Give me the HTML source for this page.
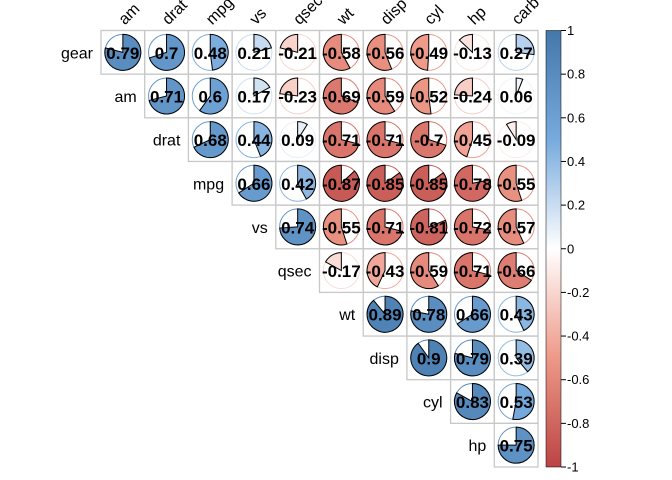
<!DOCTYPE html>
<html><head><meta charset="utf-8"><style>
body{margin:0;background:#fff}
svg{display:block;font-family:"Liberation Sans",Arial,sans-serif}
</style></head><body>
<svg id="c" width="672" height="480">
<defs><linearGradient id="g" x1="0" y1="1" x2="0" y2="0">
<stop offset="0" stop-color="#BB4444"/><stop offset="0.25" stop-color="#EE9988"/><stop offset="0.5" stop-color="#FFFFFF"/><stop offset="0.75" stop-color="#77AADD"/><stop offset="1" stop-color="#4477AA"/></linearGradient></defs>
</svg>
<script>
const rowLabels=["gear","am","drat","mpg","vs","qsec","wt","disp","cyl","hp"];
const colLabels=["am","drat","mpg","vs","qsec","wt","disp","cyl","hp","carb"];
const corrValues=[
[.79,.7,.48,.21,-.21,-.58,-.56,-.49,-.13,.27],
[.71,.6,.17,-.23,-.69,-.59,-.52,-.24,.06],
[.68,.44,.09,-.71,-.71,-.7,-.45,-.09],
[.66,.42,-.87,-.85,-.85,-.78,-.55],
[.74,-.55,-.71,-.81,-.72,-.57],
[-.17,-.43,-.59,-.71,-.66],
[.89,.78,.66,.43],
[.9,.79,.39],
[.83,.53],
[.75]];
const legendTicks=[1,0.8,0.6,0.4,0.2,0,-0.2,-0.4,-0.6,-0.8,-1];
const svg=document.getElementById('c');const NS="http://www.w3.org/2000/svg";
const X0=101,Y0=30.5,CW=43.7,CH=43.65,R=18;
function mk(t,a,p){const e=document.createElementNS(NS,t);for(const k in a)e.setAttribute(k,a[k]);(p||svg).appendChild(e);return e;}
const stops=[[-1,[187,68,68]],[-.5,[238,153,136]],[0,[255,255,255]],[.5,[119,170,221]],[1,[68,119,170]]];
function col(v){for(let i=0;i<4;i++){const[a,c1]=stops[i],[b,c2]=stops[i+1];if(v>=a&&v<=b){const t=(v-a)/(b-a);return`rgb(${c1.map((c,k)=>Math.round(c+(c2[k]-c)*t)).join(',')})`;}}return'#fff';}
const xs=j=>X0+j*CW, ys=i=>Y0+i*CH;
rowLabels.forEach((r,i)=>{
 const t=mk('text',{x:xs(i)-8,y:ys(i)+CH/2+6,'text-anchor':'end','font-size':16});t.textContent=r;
 
 
 corrValues[i].forEach((v,k)=>{
  const j=i+k,x=xs(j),y=ys(i),cx=x+CW/2,cy=y+CH/2;
  const g=mk('g',{});
  
  
  mk('rect',{x:x,y:y,width:CW,height:CH,fill:'none',stroke:'#c8c8c8','stroke-width':1.3},g);
  const c=col(v);
  mk('circle',{cx:cx,cy:cy,r:R,fill:'none',stroke:c,'stroke-width':1},g);
  const a=Math.abs(v)*2*Math.PI*(v>=0?1:-1);
  const ex=cx+R*Math.sin(a),ey=cy-R*Math.cos(a);
  const large=Math.abs(v)>0.5?1:0,sw=v>=0?1:0;
  mk('path',{d:`M${cx},${cy}L${cx},${cy-R}A${R},${R} 0 ${large} ${sw} ${ex},${ey}Z`,fill:c,stroke:'#000','stroke-width':1},g);
  const tt=mk('text',{x:cx,y:cy+6.5,'text-anchor':'middle','font-size':17,'font-weight':'bold'},g);
  tt.textContent=String(v);
 });
});
colLabels.forEach((c,j)=>{
 const x=xs(j)+CW/2+2,y=Y0-5;
 const t=mk('text',{x:x,y:y,'font-size':16,transform:`rotate(-45 ${x} ${y})`});t.textContent=c;
 
 
});
const LX=546,LW=15,LT=30.5,LB=467;
const lb=mk('rect',{x:LX,y:LT,width:LW,height:LB-LT,fill:'url(#g)',stroke:'#000','stroke-width':0.5});


legendTicks.forEach(v=>{
 const y=LT+(1-v)/2*(LB-LT);
 mk('line',{x1:LX+LW,x2:LX+LW+5,y1:y,y2:y,stroke:'#000'});
 const t=mk('text',{x:LX+LW+6,y:y+4.5,'font-size':13});t.textContent=String(v);
 
 
});
</script>
</body></html>
